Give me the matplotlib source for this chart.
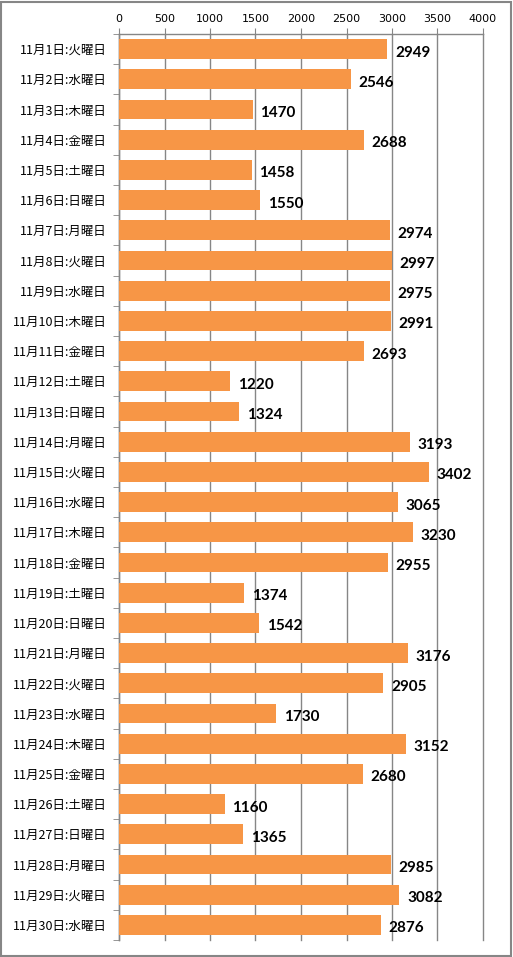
import matplotlib
matplotlib.use("Agg")
import matplotlib.pyplot as plt
from matplotlib.patches import Rectangle

plt.rcParams['font.family'] = ['Noto Sans CJK JP', 'DejaVu Sans']

weekdays = ['火', '水', '木', '金', '土', '日', '月']
days = list(range(1, 31))
labels = ['11月%d日:%s曜日' % (d, weekdays[(d - 1) % 7]) for d in days]
values = [2949, 2546, 1470, 2688, 1458, 1550, 2974, 2997, 2975, 2991,
          2693, 1220, 1324, 3193, 3402, 3065, 3230, 2955, 1374, 1542,
          3176, 2905, 1730, 3152, 2680, 1160, 1365, 2985, 3082, 2876]
xticks = [0, 500, 1000, 1500, 2000, 2500, 3000, 3500, 4000]

W, H = 513, 957
fig = plt.figure(figsize=(W / 100, H / 100), dpi=100)
ax = fig.add_axes([119 / W, 1 - 940 / H, (483 - 119) / W, (940 - 34) / H])

n = len(values)
ypos = list(range(n))
ax.barh(ypos, values, height=0.66, color='#F79646', zorder=3)
for y, v in zip(ypos, values):
    ax.annotate(str(v), (v, y), xytext=(5.5, -2.5), textcoords='offset points',
                ha='left', va='center', fontsize=11, fontweight='bold',
                family=['Lato', 'DejaVu Sans'], zorder=4)

ax.set_xlim(0, 4000)
ax.set_ylim(n - 0.5, -0.5)
ax.xaxis.tick_top()
ax.set_xticks(xticks)
ax.set_xticklabels([str(t) for t in xticks], fontsize=8, family=['DejaVu Sans'])
ax.grid(axis='x', color='#868686', linewidth=1, zorder=0)
for gl in ax.get_xgridlines():
    gl.set_clip_on(False)
ax.tick_params(axis='x', length=4, color='#868686', pad=3)

ax.set_yticks(ypos)
ax.set_yticklabels(labels, fontsize=9)
ax.set_yticks([i - 0.5 for i in range(n + 1)], minor=True)
ax.tick_params(axis='y', which='major', length=0, pad=9)
ax.tick_params(axis='y', which='minor', length=4, color='#868686')

for s in ['right', 'bottom']:
    ax.spines[s].set_visible(False)
for s in ['left', 'top']:
    ax.spines[s].set_color('#868686')
    ax.spines[s].set_linewidth(1)

fig.patches.append(Rectangle((1 / W, 1 / H), (W - 3) / W, (H - 3) / H,
                             transform=fig.transFigure, fill=False,
                             edgecolor='#868686', linewidth=1.5))

fig.savefig('out.png', dpi=100)
